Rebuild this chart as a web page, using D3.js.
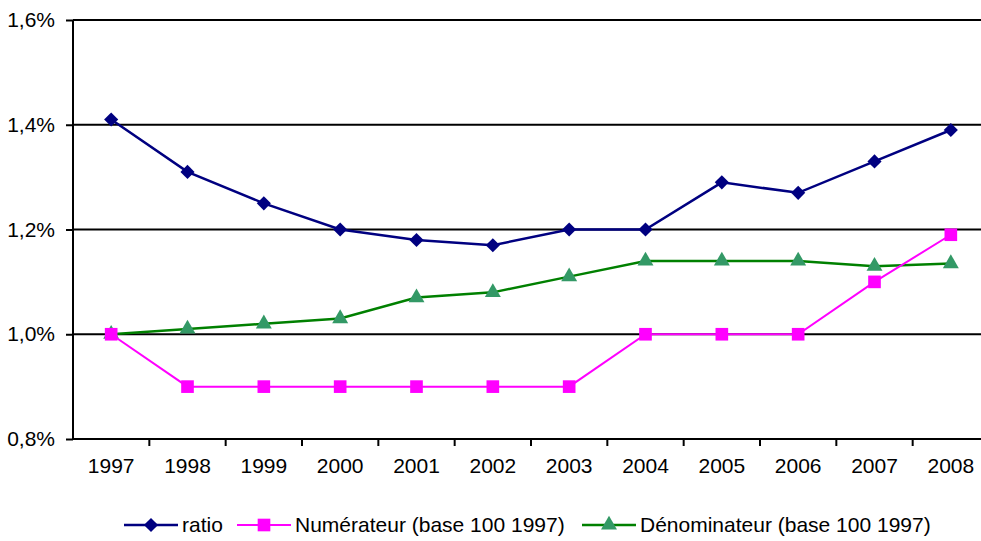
<!DOCTYPE html>
<html>
<head>
<meta charset="utf-8">
<script src="https://cdnjs.cloudflare.com/ajax/libs/d3/7.8.5/d3.min.js"></script>
<style>
  body { margin: 0; background: #fff; }
  svg text { font-family: "Liberation Sans", Arial, sans-serif; fill: #000; }
</style>
</head>
<body>
<svg id="chart"></svg>
<script>
const years = ['1997', '1998', '1999', '2000', '2001', '2002', '2003', '2004', '2005', '2006', '2007', '2008'];
const ratio = [1.41, 1.31, 1.25, 1.20, 1.18, 1.17, 1.20, 1.20, 1.29, 1.27, 1.33, 1.39];
const numerateur = [1.00, 0.90, 0.90, 0.90, 0.90, 0.90, 0.90, 1.00, 1.00, 1.00, 1.10, 1.19];
const denominateur = [1.00, 1.01, 1.02, 1.03, 1.07, 1.08, 1.11, 1.14, 1.14, 1.14, 1.13, 1.135];
const yTicks = [0.8, 1.0, 1.2, 1.4, 1.6];

const series = [
    {name: 'ratio', values: ratio, line: '#000080', fill: '#000080', marker: 'diamond', lw: 2.5},
    {name: 'Numérateur (base 100 1997)', values: numerateur, line: '#ff00ff', fill: '#ff00ff', marker: 'square', lw: 2},
    {name: 'Dénominateur (base 100 1997)', values: denominateur, line: '#008000', fill: '#339966', marker: 'triangle', lw: 2.5}
];

const W = 981, H = 541;
const fontSize = 21;
const margin = {top: 20, right: -8, bottom: 102, left: 73};
const width = W - margin.left - margin.right,
    height = H - margin.top - margin.bottom;

const svg = d3.select('#chart').attr('width', W).attr('height', H);
const g = svg.append('g')
    .attr('transform', 'translate(' + margin.left + ',' + margin.top + ')');

const x = d3.scaleBand().domain(years).range([0, width]);
const y = d3.scaleLinear().domain([0.8, 1.6]).range([height, 0]);

const fmt = d => d3.format('.1f')(d).replace('.', ',') + '%';

// gridlines
g.selectAll('.grid').data(yTicks.slice(1)).enter().append('line')
    .attr('x1', 0).attr('x2', width)
    .attr('y1', d => y(d)).attr('y2', d => y(d))
    .attr('stroke', '#000').attr('stroke-width', 2);

// axes
const yAxis = d3.axisLeft(y).tickValues(yTicks).tickFormat(fmt).tickSize(7).tickPadding(11);
const gy = g.append('g').call(yAxis);
gy.select('.domain').attr('stroke-width', 2).attr('d', 'M0,0V' + height);
gy.selectAll('.tick line').attr('stroke-width', 2);
gy.selectAll('.tick text').attr('font-size', fontSize);

const xAxis = d3.axisBottom(x).tickSize(0).tickPadding(19);
const gx = g.append('g').attr('transform', 'translate(0,' + height + ')').call(xAxis);
gx.select('.domain').attr('stroke-width', 2).attr('d', 'M0,0H' + width);
gx.selectAll('.tick text').attr('font-size', fontSize);
gx.selectAll('.sep').data(years.slice(1)).enter().append('line')
    .attr('x1', d => x(d)).attr('x2', d => x(d))
    .attr('y1', 0).attr('y2', 7)
    .attr('stroke', '#000').attr('stroke-width', 2);

const symbols = {
    diamond: d3.symbol().type(d3.symbolSquare).size(100),
    square: d3.symbol().type(d3.symbolSquare).size(160),
    triangle: d3.symbol().type(d3.symbolTriangle).size(110)
};

function drawMarker(sel, s, cx, cy) {
    sel.append('path')
        .attr('d', symbols[s.marker]())
        .attr('transform', 'translate(' + cx + ',' + cy + ')' + (s.marker === 'diamond' ? ' rotate(45)' : ''))
        .attr('fill', s.fill);
}

const line = d3.line()
    .x((d, i) => x(years[i]) + x.bandwidth() / 2)
    .y(d => y(d));

series.slice().reverse().forEach(s => {
    g.append('path').datum(s.values)
        .attr('d', line)
        .attr('fill', 'none')
        .attr('stroke', s.line)
        .attr('stroke-width', s.lw);
    s.values.forEach((v, i) => {
        drawMarker(g, s, x(years[i]) + x.bandwidth() / 2, y(v));
    });
});

// legend
const legendPos = [124, 237, 582];
const lg = svg.append('g').attr('transform', 'translate(0,525)');
series.forEach((s, i) => {
    const lx = legendPos[i];
    lg.append('line').attr('x1', lx).attr('x2', lx + 54)
        .attr('stroke', s.line).attr('stroke-width', s.lw);
    drawMarker(lg, s, lx + 27, 0);
    lg.append('text').attr('x', lx + 58).attr('y', 0).attr('dy', '0.35em')
        .attr('font-size', fontSize).text(s.name);
});
</script>
</body>
</html>
